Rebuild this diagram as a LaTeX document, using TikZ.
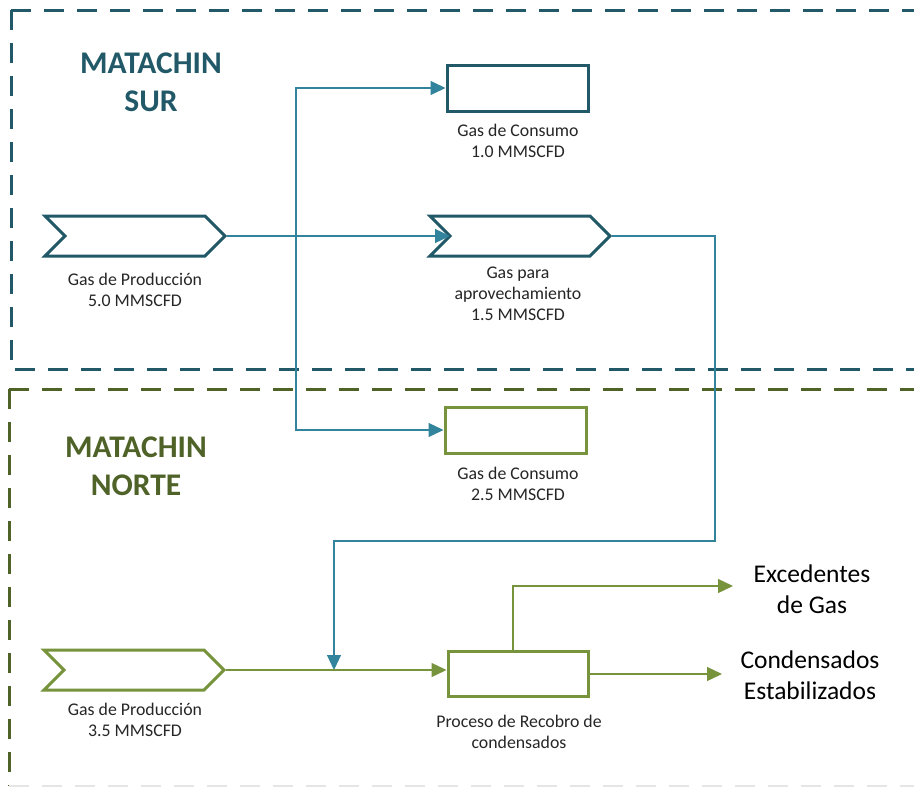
\documentclass[tikz,border=0pt]{standalone}
\usepackage{fontspec}
\setmainfont{Carlito}
\usetikzlibrary{arrows.meta,shapes.symbols,calc}
\definecolor{tealdark}{HTML}{215968}
\definecolor{tealline}{HTML}{31849B}
\definecolor{olivedark}{HTML}{4F6228}
\definecolor{olive}{HTML}{77933C}
\definecolor{txt}{HTML}{262626}
\begin{document}
\begin{tikzpicture}[x=1pt,y=-1pt,
 region/.style={line width=3pt, dash pattern=on 20pt off 13pt},
 chev/.style={signal, signal to=east, signal from=west, signal pointer angle=90, minimum width=180pt, minimum height=40pt, inner sep=0pt, line width=3pt, line join=miter},
 box/.style={rectangle, minimum width=141pt, minimum height=46pt, inner sep=0pt, line width=3pt},
 flow/.style={line width=1.3pt, -{Triangle[length=15pt,width=14pt]}},
 lbl/.style={align=center, text=txt, font=\fontsize{17.8}{21}\selectfont},
 big/.style={align=center, text=black, font=\fontsize{25.5}{31}\selectfont},
 regiontitle/.style={align=center, font=\fontsize{31.5}{38}\selectfont\bfseries},
]
\useasboundingbox (0,0) rectangle (914,787);
\clip (0,0) rectangle (914,787);
\fill[white] (0,0) rectangle (914,787);

% regions
\draw[region, tealdark] (11,10) -- (930,10);
\draw[region, tealdark] (11,10) -- (11,369) -- (930,369);
\draw[region, olivedark] (9,389) -- (930,389);
\draw[region, olivedark] (9,389) -- (9,786);
\draw[region, black!10] (9,786) -- (930,786);

% titles
\node[regiontitle, text=tealdark] (tsur) at (151,82) {MATACHIN\\SUR};
\node[regiontitle, text=olivedark] (tnorte) at (136,466) {MATACHIN\\NORTE};

% shapes
\node[chev, draw=tealdark] (p1) at (135,236) {};
\node[chev, draw=tealdark] (p2) at (520,236) {};
\node[box, draw=tealdark] (c1) at (517.5,88) {};
\node[box, draw=olive] (c2) at (515.5,430) {};
\node[chev, draw=olive] (p3) at (134,670) {};
\node[rectangle, minimum width=140pt, minimum height=45pt, inner sep=0pt, line width=3pt, draw=olive] (proc) at (518,673.5) {};

% coordinates
\coordinate (j) at (296,236);
\coordinate (r1) at (715,541);
\coordinate (m) at (334,670);
\coordinate (e1) at (733,586);
\coordinate (e2) at (722,674);

% connectors
\draw[flow, tealline] (p1.east) -- ([xshift=-70pt]p2.center);
\draw[flow, tealline] (j) |- (c1.west);
\draw[flow, tealline] (j) |- (c2.west);
\draw[flow, tealline] (p2.east) -| (r1) -| (m);
\draw[flow, olive] (p3.east) -- (p3.east -| proc.west);
\draw[flow, olive] ([xshift=-5pt]proc.north) |- (e1);
\draw[flow, olive] (proc.east |- e2) -- (e2);

% labels
\node[lbl] (l1) at (135,290) {Gas de Producción\\5.0 MMSCFD};
\node[lbl] (l2) at (518,141) {Gas de Consumo\\1.0 MMSCFD};
\node[lbl] (l3) at (518,294) {Gas para\\aprovechamiento\\1.5 MMSCFD};
\node[lbl] (l4) at (518,483.5) {Gas de Consumo\\2.5 MMSCFD};
\node[lbl] (l5) at (135,719.5) {Gas de Producción\\3.5 MMSCFD};
\node[lbl] (l6) at (519,731.5) {Proceso de Recobro de\\condensados};
\node[big] (l7) at (812,589.5) {Excedentes\\de Gas};
\node[big] (l8) at (810,675.5) {Condensados\\Estabilizados};
\end{tikzpicture}
\end{document}
